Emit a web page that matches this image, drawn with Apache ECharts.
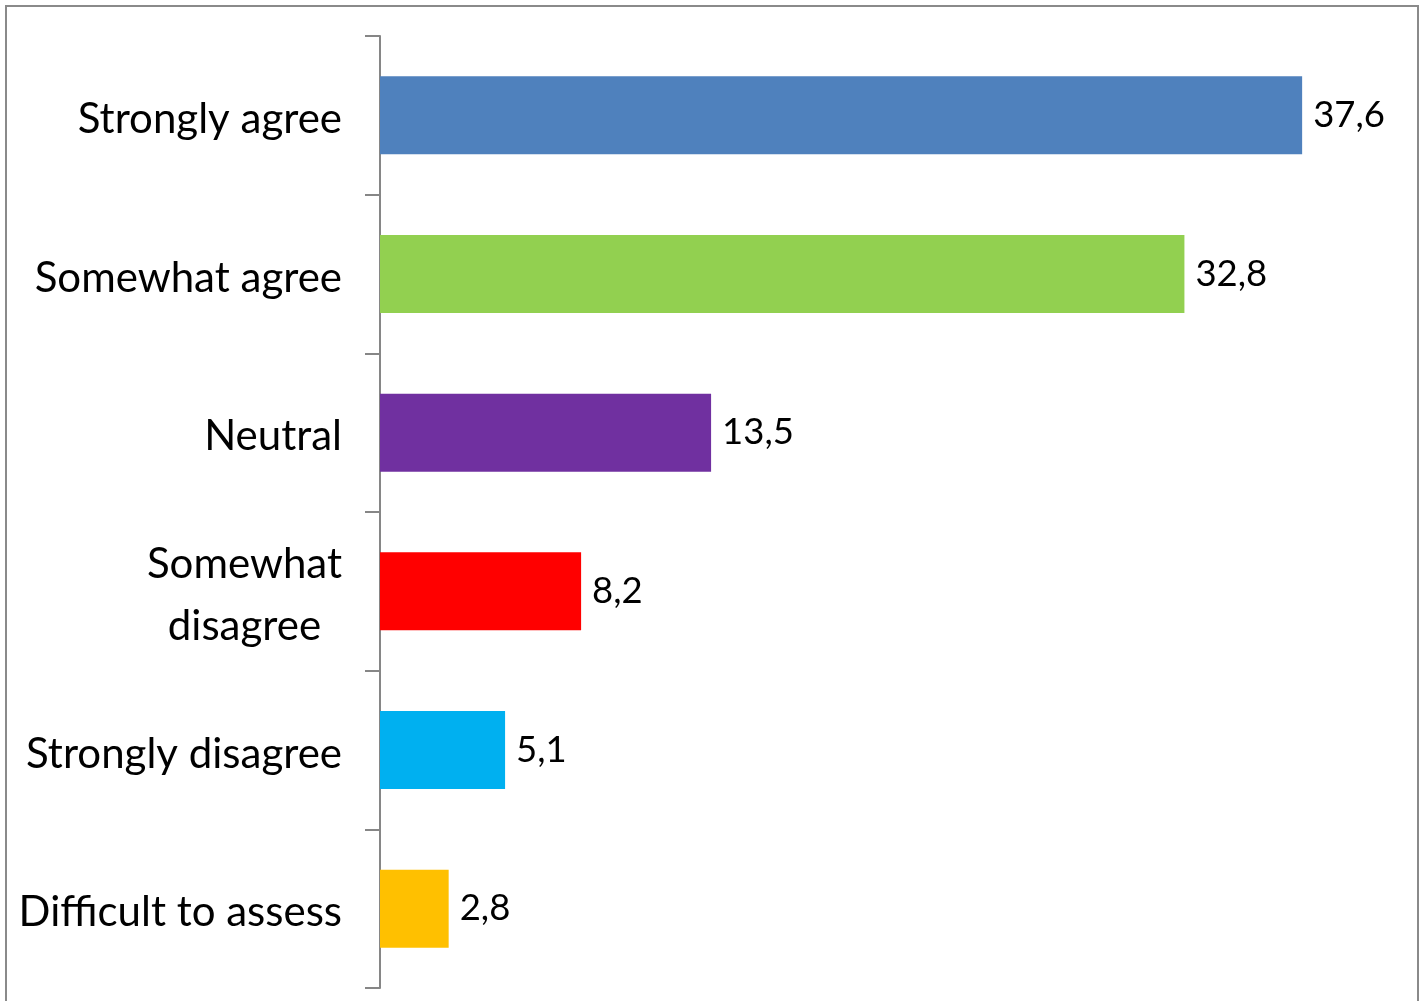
<!DOCTYPE html>
<html>
<head>
<meta charset="utf-8">
<script src="https://cdn.jsdelivr.net/npm/echarts@6/dist/echarts.min.js"></script>
<style>html,body{margin:0;padding:0;background:#fff;}#c{width:1421px;height:1001px;}</style>
</head>
<body>
<div id="c"></div>
<script>
const categories = ["Strongly agree", "Somewhat agree", "Neutral", "Somewhat\ndisagree", "Strongly disagree", "Difficult to assess"];
const values = [37.6, 32.8, 13.5, 8.2, 5.1, 2.8];
const colors = ["#4F81BD", "#92D050", "#7030A0", "#FF0000", "#00B0F0", "#FFC000"];

const chart = echarts.init(document.getElementById('c'));
chart.setOption({
  backgroundColor: '#fff',
  animation: false,
  graphic: [{
    type: 'rect', shape: {x: 6, y: 6, width: 1412, height: 1020},
    style: {fill: 'none', stroke: '#8a8a8a', lineWidth: 2}, z: 100
  }],
  grid: {left: 380, right: 60, top: 36, bottom: 13},
  xAxis: {type: 'value', min: 0, max: 40, show: false},
  yAxis: {
    type: 'category', data: categories, inverse: true,
    axisLine: {show: true, lineStyle: {color: '#868686', width: 2}},
    axisTick: {show: true, inside: false, alignWithLabel: false, length: 15, lineStyle: {color: '#868686', width: 2}},
    axisLabel: {
      margin: 38, color: '#000', fontFamily: 'Lato', fontSize: 42,
      formatter: function (v) {
        return v.split('\n').map(function (s) { return '{c|' + s + '}'; }).join('\n');
      },
      rich: {c: {align: 'center', fontFamily: 'Lato', fontSize: 42, lineHeight: 62, color: '#000', padding: [8, 0, 0, 0]}}
    }
  },
  series: [{
    type: 'bar', barWidth: 78,
    data: values.map(function (v, i) { return {value: v, itemStyle: {color: colors[i]}}; }),
    label: {
      show: true, position: 'right', distance: 11, color: '#000',
      fontFamily: 'Lato', fontSize: 36.5, padding: [4, 0, 0, 0],
      formatter: function (p) { return String(p.value).replace('.', ','); }
    }
  }]
});
</script>
</body>
</html>
